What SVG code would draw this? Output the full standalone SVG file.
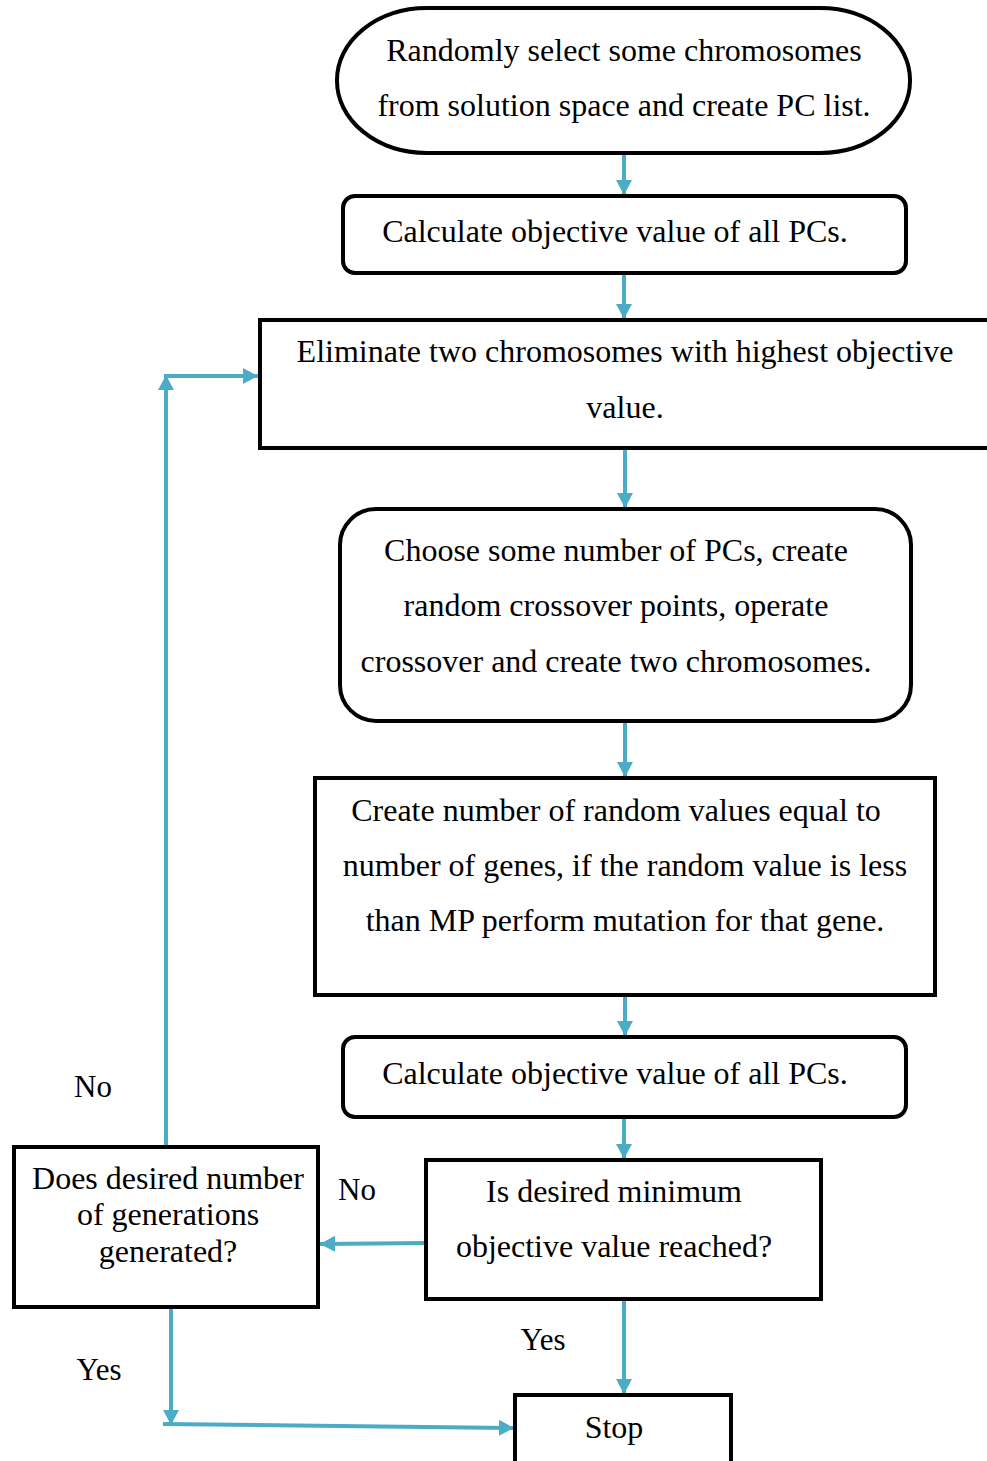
<svg xmlns="http://www.w3.org/2000/svg" width="987" height="1461" viewBox="0 0 987 1461">
  <style>
    .box { fill: #ffffff; stroke: #000000; stroke-width: 4; }
    text { font-family: "Liberation Serif", "Times New Roman", Tinos, "DejaVu Serif", serif; fill: #000000; text-anchor: middle; }
    .txt { font-size: 32px; }
    .lbl { font-size: 31px; }
    .link { fill: none; stroke: #4bacc6; stroke-width: 4; }
  </style>
  <defs>
    <marker id="arrow" markerUnits="userSpaceOnUse" markerWidth="18" markerHeight="18" refX="15" refY="8" orient="auto">
      <path d="M0,0 L15,8 L0,16 Z" fill="#4bacc6"/>
    </marker>
  </defs>
  <rect width="987" height="1461" fill="#ffffff"/>

  <g id="connectors">
    <line class="link" x1="624" y1="153" x2="624" y2="195" marker-end="url(#arrow)"/>
    <line class="link" x1="624" y1="273" x2="624" y2="319" marker-end="url(#arrow)"/>
    <line class="link" x1="625" y1="448" x2="625" y2="508" marker-end="url(#arrow)"/>
    <line class="link" x1="625" y1="721" x2="625" y2="777" marker-end="url(#arrow)"/>
    <line class="link" x1="625" y1="995" x2="625" y2="1036" marker-end="url(#arrow)"/>
    <line class="link" x1="624" y1="1117" x2="624" y2="1159" marker-end="url(#arrow)"/>
    <line class="link" x1="426" y1="1243" x2="320" y2="1244" marker-end="url(#arrow)"/>
    <line class="link" x1="166" y1="1147" x2="166" y2="375" marker-end="url(#arrow)"/>
    <line class="link" x1="164" y1="376" x2="258" y2="376" marker-end="url(#arrow)"/>
    <line class="link" x1="171" y1="1307" x2="171" y2="1425" marker-end="url(#arrow)"/>
    <line class="link" x1="163" y1="1424" x2="514" y2="1428" marker-end="url(#arrow)"/>
    <line class="link" x1="624" y1="1299" x2="624" y2="1394" marker-end="url(#arrow)"/>
  </g>

  <g id="start">
    <rect class="box" x="337" y="8" width="573" height="145" rx="90" ry="72"/>
    <text class="txt" x="624" y="61">Randomly select some chromosomes</text>
    <text class="txt" x="624" y="116">from solution space and create PC list.</text>
  </g>

  <g id="evaluate1">
    <rect class="box" x="343" y="196" width="563" height="77" rx="12"/>
    <text class="txt" x="615" y="242">Calculate objective value of all PCs.</text>
  </g>

  <g id="eliminate">
    <rect class="box" x="260" y="320" width="740" height="128"/>
    <text class="txt" x="625" y="362">Eliminate two chromosomes with highest objective</text>
    <text class="txt" x="625" y="418">value.</text>
  </g>

  <g id="crossover">
    <rect class="box" x="340" y="509" width="571" height="212" rx="36"/>
    <text class="txt" x="616" y="561">Choose some number of PCs, create</text>
    <text class="txt" x="616" y="616">random crossover points, operate</text>
    <text class="txt" x="616" y="672">crossover and create two chromosomes.</text>
  </g>

  <g id="mutation">
    <rect class="box" x="315" y="778" width="620" height="217"/>
    <text class="txt" x="616" y="821">Create number of random values equal to</text>
    <text class="txt" x="625" y="876">number of genes, if the random value is less</text>
    <text class="txt" x="625" y="931">than MP perform mutation for that gene.</text>
  </g>

  <g id="evaluate2">
    <rect class="box" x="343" y="1037" width="563" height="80" rx="12"/>
    <text class="txt" x="615" y="1084">Calculate objective value of all PCs.</text>
  </g>

  <g id="check-objective">
    <rect class="box" x="426" y="1160" width="395" height="139"/>
    <text class="txt" x="614" y="1202">Is desired minimum</text>
    <text class="txt" x="614" y="1257">objective value reached?</text>
  </g>

  <g id="check-generations">
    <rect class="box" x="14" y="1147" width="304" height="160"/>
    <text class="txt" x="168" y="1189">Does desired number</text>
    <text class="txt" x="168" y="1225">of generations</text>
    <text class="txt" x="168" y="1262">generated?</text>
  </g>

  <g id="stop">
    <rect class="box" x="515" y="1395" width="216" height="80"/>
    <text class="txt" x="614" y="1438">Stop</text>
  </g>

  <g id="labels">
    <text class="lbl" x="93" y="1097">No</text>
    <text class="lbl" x="357" y="1200">No</text>
    <text class="lbl" x="543" y="1350">Yes</text>
    <text class="lbl" x="99" y="1380">Yes</text>
  </g>
</svg>
